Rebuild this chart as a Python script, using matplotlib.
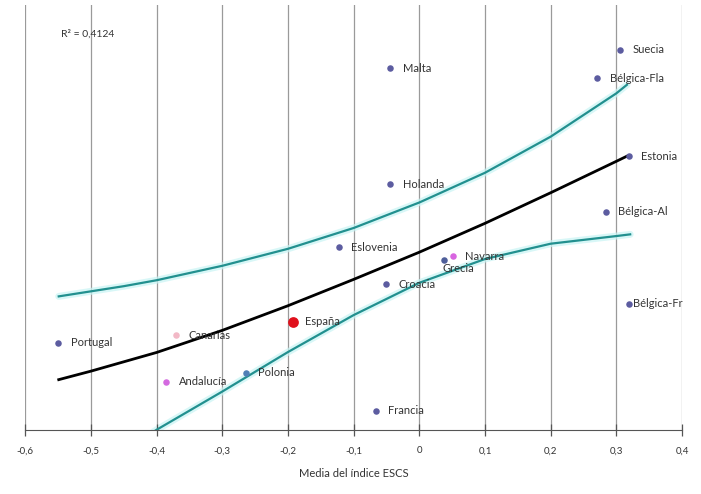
import matplotlib
matplotlib.use("Agg")
import matplotlib.pyplot as plt

plt.rcParams['font.family'] = ['Lato', 'DejaVu Sans']

# paises / regiones
nombres = ['Suecia', 'Bélgica-Fla', 'Malta', 'Estonia', 'Holanda', 'Bélgica-Al',
           'Eslovenia', 'Navarra', 'Grecia', 'Croacia', 'Bélgica-Fr', 'España',
           'Canarias', 'Portugal', 'Andalucía', 'Polonia', 'Francia']
escs = [0.306, 0.271, -0.044, 0.319, -0.044, 0.284, -0.123, 0.051, 0.037,
        -0.051, 0.319, -0.193, -0.371, -0.550, -0.385, -0.264, -0.066]
valor = [89.5, 82.8, 85.1, 64.4, 57.8, 51.3, 43.0, 40.8, 39.9,
         34.3, 29.7, 25.4, 22.3, 20.5, 11.3, 13.4, 4.5]
colores = ['#5c5ca0', '#5c5ca0', '#5c5ca0', '#5c5ca0', '#5c5ca0', '#5c5ca0',
           '#5c5ca0', '#d865e0', '#4f5f9a', '#5c5ca0', '#5c5ca0', '#e0101c',
           '#f2b8c6', '#5c5ca0', '#d46ae0', '#4f7fb5', '#5c5ca0']

# linea de regresion y bandas de confianza
reg_x = [-0.549, -0.5, -0.4, -0.3, -0.2, -0.1, 0.0, 0.1, 0.2, 0.3, 0.316]
reg_y = [11.8, 13.8, 18.2, 23.4, 29.2, 35.4, 41.8, 48.6, 55.8, 63.2, 64.4]
sup_x = [-0.549, -0.45, -0.4, -0.3, -0.2, -0.1, 0.0, 0.1, 0.2, 0.3, 0.316]
sup_y = [31.4, 33.8, 35.2, 38.6, 42.6, 47.5, 53.5, 60.5, 69.0, 79.2, 81.2]
inf_x = [-0.405, -0.4, -0.3, -0.2, -0.1, 0.0, 0.1, 0.2, 0.3, 0.321]
inf_y = [-0.5, 0.0, 9.0, 18.3, 27.0, 34.6, 40.2, 43.8, 45.6, 46.0]

ticks = [-0.6, -0.5, -0.4, -0.3, -0.2, -0.1, 0, 0.1, 0.2, 0.3, 0.4]
tick_labels = ['-0,6', '-0,5', '-0,4', '-0,3', '-0,2', '-0,1', '0', '0,1', '0,2', '0,3', '0,4']

fig = plt.figure(figsize=(7.01, 4.94), dpi=100)
ax = fig.add_axes([0.036, 0.13, 0.937, 0.86])

for x in ticks:
    ax.axvline(x, color='#9a9a9a', lw=0.9, zorder=0)

# bandas con halo claro
for xs, ys in [(sup_x, sup_y), (inf_x, inf_y)]:
    ax.plot(xs, ys, color='#c8f4f4', lw=5, alpha=0.7, zorder=1,
            solid_capstyle='round', solid_joinstyle='round')
    ax.plot(xs, ys, color='#22908f', lw=1.6, zorder=2, solid_joinstyle='round')
ax.plot(reg_x, reg_y, color='black', lw=2, zorder=2, solid_joinstyle='round')

for n, x, y, c in zip(nombres, escs, valor, colores):
    s = 60 if n == 'España' else 22
    ax.scatter(x, y, s=s, color=c, zorder=3, linewidths=0)
    dx, dy = 9, 0
    if n == 'Grecia':
        dx, dy = -1, -6
    elif n == 'Bélgica-Fr':
        dx = 3
    ax.annotate(n, (x, y), xytext=(dx, dy), textcoords='offset points',
                ha='left', va='center', fontsize=8, color='#333333', zorder=2.5)

ax.text(-0.545, 92.5, 'R² = 0,4124', fontsize=7.5, color='#333333')

ax.set_xlim(-0.6, 0.4)
ax.set_ylim(0, 100)
ax.set_xticks(ticks)
ax.set_xticklabels(tick_labels, fontsize=7, color='#333333')
ax.set_yticks([])
ax.tick_params(axis='x', direction='inout', length=8, width=0.9, color='#555555', pad=8)
for s in ['top', 'left', 'right']:
    ax.spines[s].set_visible(False)
ax.spines['bottom'].set_color('#555555')
ax.set_xlabel('Media del índice ESCS', fontsize=8, color='#333333', labelpad=9)

plt.savefig('out.png', dpi=100)
